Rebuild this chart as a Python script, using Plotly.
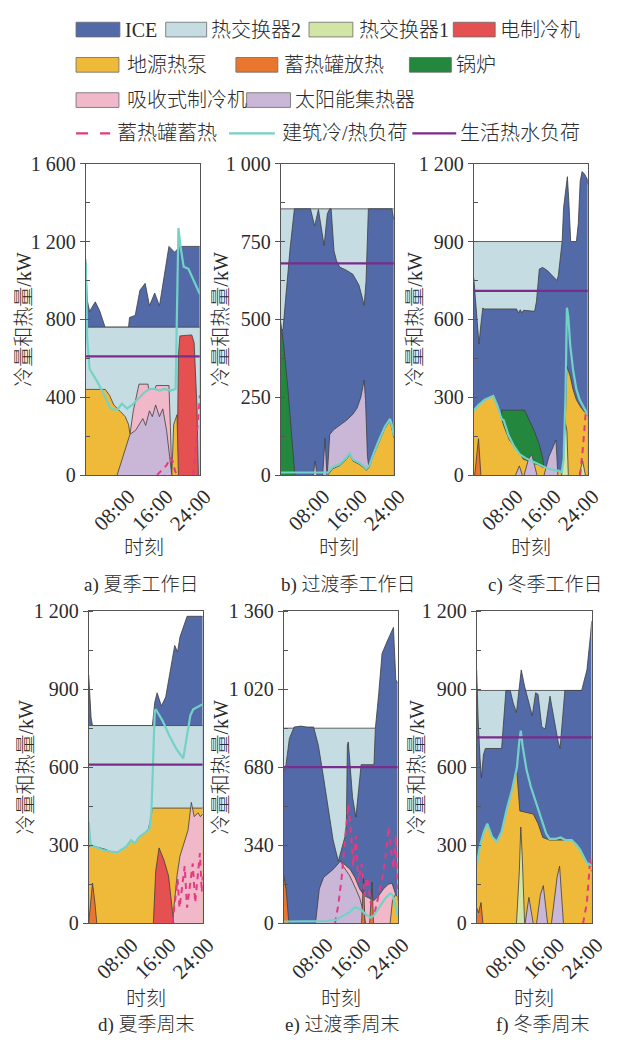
import plotly.graph_objects as go

W, H = 635, 1044
FONT = "Liberation Serif, Noto Sans CJK SC, serif"
TXT = "#2b2b2b"
EDGE = "#3d3d3d"
FRAME = "#555555"

COLOR = {
    "ICE": "#536aa9",
    "热交换器2": "#c5dde2",
    "热交换器1": "#d3e5a5",
    "电制冷机": "#e55050",
    "地源热泵": "#efba3a",
    "蓄热罐放热": "#e8762f",
    "锅炉": "#23883d",
    "吸收式制冷机": "#f1b8c9",
    "太阳能集热器": "#cab7d8",
    "蓄热罐蓄热": "#e33a80",
    "建筑冷/热负荷": "#73d2c7",
    "生活热水负荷": "#7b2b8b",
}

HOUR_TICKS = [8, 16, 24]
HOUR_LABELS = ["08:00", "16:00", "24:00"]

# ---- a) summer weekday: cumulative top of each layer, (hour, kW); None splits segments
A_ICE = [(0, 1110), (0.3, 900), (0.8, 840), (1.0, 850), (2.0, 890), (2.9, 845), (4.0, 765), (4.1, 760),
         (9.0, 760), (9.2, 810), (10.4, 820), (11.4, 950), (12.5, 985), (13.4, 870), (14.5, 935),
         (15.5, 870), (17.5, 1175), (18.7, 1145), (19.8, 1175), (24, 1175)]
A_HX2 = [(0, 760), (24, 760)]
A_CHILLER = [(19.2, 0), (19.5, 620), (19.8, 715), (22.3, 720), (22.8, 680), (23.4, 350), (23.7, 0)]
A_ABSORB = [(9.3, 209), (10.0, 330), (11.2, 467), (13.1, 467), (13.2, 445), (14.6, 445), (14.8, 460),
            (17.5, 460), (17.8, 250), (18.1, 0)]
A_GSHP = [(0, 440), (4.1, 440), (5.0, 410), (5.9, 360), (7.3, 326), (8.3, 300), (9.0, 260), (9.3, 209), None,
          (18.1, 0), (18.5, 260), (19.2, 310), (19.5, 0)]
A_SOLAR = [(6.6, 0), (9.3, 209), (10.5, 230), (12.0, 290), (12.6, 255), (13.4, 330), (14.0, 300), (14.7, 360),
           (15.5, 300), (16.2, 340), (17.0, 230), (17.6, 120), (18.1, 0)]
A_CHARGE = [(15.0, 0), (16.0, 25), (17.0, 50), (17.8, 90), (18.3, 70), (18.8, 20), (19.2, 0), None,
            (22.6, 0), (23.2, 150), (23.7, 300), (24, 410)]
A_LOAD = [(0, 1095), (0.3, 700), (0.8, 545), (1.3, 526), (2.5, 476), (3.9, 410), (5.2, 342), (6.6, 334),
          (7.6, 367), (8.7, 342), (9.7, 359), (11.0, 392), (12.4, 426), (13.4, 442), (14.5, 442), (15.5, 434),
          (16.5, 442), (17.9, 434), (18.9, 442), (19.3, 1000), (19.5, 1270), (19.9, 1180), (20.6, 1070),
          (21.6, 1060), (24, 930)]
A_DHW = 610

# ---- b) transition-season weekday
B_HX2 = [(0, 855), (24, 855)]
B_ICE = [(0, 460), (0.5, 470), (1.0, 560), (2.0, 730), (2.9, 855), (6.3, 855), (7.2, 800), (8.0, 853),
         (9.2, 737), (9.9, 840), (10.4, 855), (10.7, 855), (11.3, 720), (11.8, 690), (12.5, 668), (13.9, 658),
         (15.3, 645), (16.6, 610), (17.3, 570), (17.7, 545), (18.1, 620), (18.6, 855), (23.6, 855), (24, 820)]
B_BOILER = [(0, 490), (0.6, 420), (1.5, 280), (2.4, 100), (3.0, 0)]
B_SOLAR = [(6.9, 0), (7.3, 45), (7.7, 0), None, (8.9, 0), (9.4, 118), (9.8, 0), None,
           (9.9, 5), (10.4, 130), (11.2, 145), (12.5, 160), (13.9, 175), (15.3, 195), (16.2, 215),
           (17.0, 250), (17.7, 305), (18.0, 240), (18.4, 60), (18.7, 25)]
B_GSHP = [(10.0, 0), (11.0, 20), (12.5, 30), (13.9, 50), (14.6, 65), (15.3, 45), (16.6, 35), (17.5, 25),
          (18.1, 15), (18.8, 25), (19.6, 60), (20.8, 105), (22.1, 150), (23.2, 175), (23.6, 150), (24, 120)]
B_CHARGE = []
B_LOAD = [(0, 8), (10.0, 8), (11.0, 25), (12.5, 35), (13.9, 55), (14.6, 70), (15.3, 50), (16.6, 40),
          (17.5, 30), (18.1, 20), (18.8, 30), (19.6, 65), (20.8, 110), (22.1, 155), (23.2, 180), (23.6, 160),
          (24, 125)]
B_DHW = 680

# ---- c) winter weekday
C_HX2 = [(0, 900), (18.6, 900)]
C_ICE = [(0, 760), (0.5, 656), (1.1, 505), (1.5, 580), (1.9, 644), (2.2, 640), (9.0, 640), (9.4, 625),
         (9.8, 637), (10.1, 625), (10.5, 635), (12.8, 631), (13.2, 669), (13.8, 794), (14.5, 800), (15.5, 788),
         (17.5, 750), (17.8, 769), (18.6, 900), (18.9, 1030), (19.7, 1150), (20.0, 1058), (20.4, 900),
         (21.6, 900), (22.0, 970), (22.4, 1133), (22.8, 1170), (23.3, 1160), (23.9, 1140), (24, 1120)]
C_BOILER = [(5.8, 215), (5.9, 250), (10.7, 250), (11.8, 205), (12.8, 167), (13.8, 117), (14.5, 66), (15.0, 0)]
C_GSHP = [(0, 248), (0.9, 267), (2.3, 290), (4.1, 305), (4.9, 270), (5.9, 215), (6.5, 180), (7.5, 135),
          (8.5, 110), (9.5, 85), (10.5, 60), (11.5, 55), (12.5, 45), (13.5, 40), (14.5, 30), (15.5, 30),
          (16.5, 25), (17.5, 20), (18.3, 10), (18.6, 0), None,
          (18.8, 0), (19.2, 160), (19.6, 420), (20.3, 380), (20.9, 330), (21.6, 290), (22.5, 262),
          (23.3, 243), (24, 232)]
C_SOLAR = [(8.8, 0), (9.6, 35), (10.2, 0), None, (10.6, 0), (11.5, 60), (12.2, 80), (12.8, 40), (13.3, 0), None,
           (14.8, 0), (15.8, 70), (16.5, 100), (17.3, 135), (17.7, 0)]
C_HX1 = [(18.5, 0), (19.0, 120), (19.3, 200), (19.6, 170), (19.9, 0), None, (22.2, 0), (22.9, 55), (23.5, 0)]
C_DISCHARGE = [(0.2, 0), (1.0, 140), (1.5, 0)]
C_CHARGE = [(22.4, 0), (23.0, 110), (23.6, 250), (24, 230)]
C_LOAD = [(0, 248), (0.9, 268), (2.3, 290), (4.1, 305), (4.9, 270), (5.9, 215), (6.3, 211), (7.3, 154),
          (8.5, 110), (9.7, 79), (10.9, 65), (12.1, 54), (13.5, 42), (14.5, 33), (15.8, 23), (17.0, 20),
          (17.9, 16), (18.5, 10), (18.9, 60), (19.3, 300), (19.6, 645), (19.9, 610), (20.3, 500),
          (20.9, 405), (21.6, 330), (22.3, 290), (23.2, 258), (23.9, 235), (24, 236)]
C_DHW = 710

# ---- d) summer weekend
D_ICE = [(0, 955), (0.2, 900), (0.5, 790), (0.8, 760), (13.4, 760), (13.9, 850), (14.4, 886), (15.3, 835),
         (16.2, 870), (18.1, 1068), (18.7, 1043), (19.2, 1100), (20.7, 1180), (24, 1180)]
D_HX2 = [(0, 760), (24, 760)]
D_GSHP = [(0, 295), (0.5, 300), (2.0, 292), (3.4, 285), (4.6, 276), (6.0, 273), (7.9, 295), (8.9, 320),
          (9.7, 308), (10.7, 333), (12.1, 352), (12.6, 365), (13.1, 408), (13.4, 443), (24, 443)]
D_ABSORB = [(17.6, 0), (18.1, 100), (18.6, 185), (19.2, 258), (19.9, 300), (20.5, 340), (20.9, 358),
            (21.3, 420), (21.6, 465), (22.2, 410), (23.0, 425), (23.5, 410), (24, 420)]
D_CHILLER = [(13.6, 0), (14.1, 200), (14.8, 290), (15.8, 245), (16.8, 183), (17.5, 80), (17.9, 0)]
D_DISCHARGE = [(0, 0), (0.3, 60), (0.8, 155), (1.3, 80), (1.7, 0)]
D_CHARGE = [(17.6, 0), (18.2, 90), (18.7, 170), (19.1, 60), (19.6, 140), (20.2, 220), (20.7, 60), (21.3, 150),
            (21.9, 230), (22.4, 80), (22.9, 180), (23.4, 270), (23.8, 120), (24, 180)]
D_LOAD = [(0, 390), (0.4, 300), (1.2, 295), (3.0, 282), (4.6, 276), (6.0, 273), (7.9, 295), (8.9, 320),
          (9.7, 308), (10.7, 333), (12.1, 352), (12.8, 365), (13.2, 430), (13.6, 700), (13.9, 815),
          (14.1, 823), (15.5, 780), (17.0, 720), (18.5, 668), (19.9, 634), (20.5, 700), (20.9, 760),
          (21.4, 800), (22.0, 823), (24, 842)]
D_DHW = 610

# ---- e) transition-season weekend
E_HX2 = [(0, 850), (19.3, 850)]
E_ICE = [(0, 662), (0.5, 691), (1.2, 805), (2.2, 855), (3.6, 859), (4.9, 855), (6.3, 855), (7.3, 776),
         (8.4, 634), (9.4, 491), (10.4, 363), (11.5, 271), (12.2, 320), (12.9, 377), (13.2, 434), (13.4, 776),
         (13.6, 790), (14.0, 662), (14.5, 548), (15.2, 463), (15.8, 577), (16.3, 691), (19.0, 691),
         (19.3, 850), (20.0, 1000), (20.7, 1175), (21.7, 1225), (22.8, 1282), (23.1, 1289), (23.6, 1061),
         (24, 1047)]
E_ABSORB = [(12.0, 272), (13.0, 255), (14.0, 235), (15.0, 200), (16.0, 150), (17.0, 120), (18.0, 110),
            (19.0, 100), (20.0, 120), (21.0, 150), (22.0, 170), (22.8, 175), (23.5, 130), (24, 100)]
E_SOLAR = [(6.7, 0), (7.5, 150), (8.4, 200), (10.4, 235), (11.5, 260), (11.9, 272), (12.5, 250), (13.2, 230),
           (13.9, 207), (15.2, 150), (16.0, 110), (16.8, 50), (17.2, 0)]
E_GSHP = [(22.4, 0), (22.9, 100), (23.5, 125), (24, 115)]
E_DISCHARGE = [(0, 210), (0.5, 150), (1.1, 0), None, (16.4, 0), (16.8, 200), (17.1, 0), None,
               (18.1, 0), (18.6, 180), (18.9, 0)]
E_CHARGE = [(10.8, 0), (11.5, 80), (12.2, 200), (13.0, 380), (13.6, 520), (14.1, 420), (14.6, 250),
            (15.2, 380), (15.7, 180), (16.4, 260), (17.0, 120), (17.6, 200), (18.4, 80), (19.2, 50),
            (20.0, 120), (20.8, 200), (21.5, 300), (22.1, 420), (22.6, 320), (23.1, 240), (23.6, 380), (24, 150)]
E_LOAD = [(0, 8), (7.0, 8), (9.0, 10), (11.0, 15), (12.5, 35), (13.9, 50), (15.0, 70), (16.3, 60), (17.2, 40),
          (18.3, 25), (19.0, 35), (20.2, 70), (21.4, 110), (22.4, 130), (22.9, 125), (23.5, 80), (24, 30)]
E_DHW = 680

# ---- f) winter weekend
F_HX2 = [(0, 895), (22.0, 895)]
F_ICE = [(0, 974), (0.3, 785), (0.7, 634), (1.0, 559), (1.4, 647), (1.8, 672), (5.2, 672), (5.6, 760),
         (6.1, 895), (7.0, 895), (7.6, 848), (8.3, 810), (8.8, 900), (9.3, 974), (10.0, 911), (10.6, 870),
         (11.6, 798), (12.3, 886), (12.8, 880), (13.6, 754), (14.3, 747), (15.3, 873), (16.0, 800),
         (17.0, 697), (17.4, 672), (17.9, 780), (18.4, 895), (21.9, 895), (23.0, 974), (23.7, 1099), (24, 1162)]
F_GSHP = [(0, 220), (0.7, 300), (1.5, 352), (2.2, 383), (3.2, 333), (4.2, 314), (5.2, 352), (6.3, 440),
          (7.4, 515), (8.0, 572), (8.4, 578), (8.8, 480), (9.0, 432), (11.8, 420), (12.8, 384), (13.8, 330),
          (15.2, 320), (19.8, 320), (21.6, 283), (23.0, 232), (24, 220)]
F_SOLAR = [(10.1, 0), (10.9, 100), (11.8, 0), None, (12.5, 0), (13.3, 110), (13.9, 145), (14.8, 0), None,
           (15.6, 0), (16.8, 180), (17.3, 220), (18.1, 0)]
F_HX1 = [(8.3, 0), (8.9, 200), (9.2, 370), (9.5, 260), (10.0, 0)]
F_DISCHARGE = [(0, 60), (0.4, 40), (0.9, 80), (1.3, 0)]
F_CHARGE = [(22.2, 0), (23.0, 80), (23.7, 250), (24, 200)]
F_LOAD = [(0, 220), (0.7, 300), (1.5, 352), (2.2, 383), (3.2, 333), (4.2, 314), (5.2, 352), (6.3, 440),
          (7.4, 515), (8.0, 572), (8.4, 600), (8.9, 700), (9.2, 741), (9.6, 680), (10.4, 590), (11.3, 525),
          (12.3, 470), (13.3, 410), (14.5, 345), (15.2, 325), (16.5, 325), (17.5, 330), (18.5, 320),
          (19.8, 320), (20.9, 300), (21.6, 283), (23.0, 232), (24, 222)]
F_DHW = 715

# Panels: layers listed from the top of the stack downwards (painted in this order)
PANELS = [
    dict(caption="a) 夏季工作日", ymax=1600, dtick=400,
         layers=[("ICE", A_ICE), ("热交换器2", A_HX2), ("电制冷机", A_CHILLER), ("吸收式制冷机", A_ABSORB),
                 ("地源热泵", A_GSHP), ("太阳能集热器", A_SOLAR)],
         charge=A_CHARGE, load=A_LOAD, dhw=A_DHW),
    dict(caption="b) 过渡季工作日", ymax=1000, dtick=250,
         layers=[("热交换器2", B_HX2), ("ICE", B_ICE), ("锅炉", B_BOILER), ("太阳能集热器", B_SOLAR),
                 ("地源热泵", B_GSHP)],
         charge=B_CHARGE, load=B_LOAD, dhw=B_DHW),
    dict(caption="c) 冬季工作日", ymax=1200, dtick=300,
         layers=[("热交换器2", C_HX2), ("ICE", C_ICE), ("锅炉", C_BOILER), ("地源热泵", C_GSHP),
                 ("太阳能集热器", C_SOLAR), ("热交换器1", C_HX1), ("蓄热罐放热", C_DISCHARGE)],
         charge=C_CHARGE, load=C_LOAD, dhw=C_DHW),
    dict(caption="d) 夏季周末", ymax=1200, dtick=300,
         layers=[("ICE", D_ICE), ("热交换器2", D_HX2), ("地源热泵", D_GSHP), ("吸收式制冷机", D_ABSORB),
                 ("电制冷机", D_CHILLER), ("蓄热罐放热", D_DISCHARGE)],
         charge=D_CHARGE, load=D_LOAD, dhw=D_DHW),
    dict(caption="e) 过渡季周末", ymax=1360, dtick=340,
         layers=[("热交换器2", E_HX2), ("ICE", E_ICE), ("吸收式制冷机", E_ABSORB), ("太阳能集热器", E_SOLAR),
                 ("地源热泵", E_GSHP), ("蓄热罐放热", E_DISCHARGE)],
         charge=E_CHARGE, load=E_LOAD, dhw=E_DHW),
    dict(caption="f) 冬季周末", ymax=1200, dtick=300,
         layers=[("热交换器2", F_HX2), ("ICE", F_ICE), ("地源热泵", F_GSHP), ("太阳能集热器", F_SOLAR),
                 ("热交换器1", F_HX1), ("蓄热罐放热", F_DISCHARGE)],
         charge=F_CHARGE, load=F_LOAD, dhw=F_DHW),
]

# Plot-area boxes in pixels: (left, right, top, bottom)
BOXES = [(88, 205, 156, 474), (288, 404, 156, 474), (486, 603, 156, 474),
         (91, 208, 613, 932), (291, 408, 613, 932), (489, 607, 613, 932)]
YTITLE_X = [25, 227, 426, 27, 227, 428]
XTITLE_POS = [(148, 549), (348, 549), (545, 549), (150, 1009), (350, 1009), (548, 1009)]
CAPTION_POS = [(145, 586), (357, 586), (560, 586), (150, 1036), (351, 1036), (557, 1036)]


def px(x):
    return x / W


def py(y):
    return 1 - y / H


def segments(points):
    seg = []
    for p in points:
        if p is None:
            if seg:
                yield seg
            seg = []
        else:
            seg.append(p)
    if seg:
        yield seg


def text_font(size):
    return dict(family=FONT, size=size, color=TXT, weight=300)


fig = go.Figure()
layout_axes = {}
annotations = []

for i, (panel, box) in enumerate(zip(PANELS, BOXES)):
    n = i + 1
    xa, ya = ("x", "y") if n == 1 else (f"x{n}", f"y{n}")
    for name, pts in panel["layers"]:
        for seg in segments(pts):
            fig.add_trace(go.Scatter(
                x=[p[0] for p in seg], y=[p[1] for p in seg], mode="lines",
                fill="tozeroy", fillcolor=COLOR[name],
                line=dict(color=EDGE, width=0.8), name=name,
                xaxis=xa, yaxis=ya, showlegend=False))
    for seg in segments(panel["charge"]):
        fig.add_trace(go.Scatter(
            x=[p[0] for p in seg], y=[p[1] for p in seg], mode="lines",
            line=dict(color=COLOR["蓄热罐蓄热"], width=2, dash="6px,5px"),
            name="蓄热罐蓄热", xaxis=xa, yaxis=ya, showlegend=False))
    fig.add_trace(go.Scatter(
        x=[p[0] for p in panel["load"]], y=[p[1] for p in panel["load"]], mode="lines",
        line=dict(color=COLOR["建筑冷/热负荷"], width=2.2),
        name="建筑冷/热负荷", xaxis=xa, yaxis=ya, showlegend=False))
    fig.add_trace(go.Scatter(
        x=[0, 24], y=[panel["dhw"], panel["dhw"]], mode="lines",
        line=dict(color=COLOR["生活热水负荷"], width=2.2),
        name="生活热水负荷", xaxis=xa, yaxis=ya, showlegend=False))

    left, right, top, bottom = box
    kx = "xaxis" if n == 1 else f"xaxis{n}"
    ky = "yaxis" if n == 1 else f"yaxis{n}"
    layout_axes[kx] = dict(
        domain=[px(left), px(right)], range=[0, 24], anchor=ya,
        tickmode="array", tickvals=HOUR_TICKS, ticktext=HOUR_LABELS, tickangle=-45,
        ticklabelshift=5,
        ticks="", showline=True, mirror=True, linecolor=FRAME, linewidth=1,
        showgrid=False, zeroline=False,
        tickfont=dict(family=FONT, size=21, color=TXT))
    layout_axes[ky] = dict(
        domain=[py(bottom), py(top)], range=[0, panel["ymax"]], anchor=xa,
        tick0=0, dtick=panel["dtick"], tickformat=",",
        ticks="outside", ticklen=5, tickcolor=FRAME,
        minor=dict(dtick=panel["dtick"] / 2, ticks="inside", ticklen=4, tickcolor=FRAME),
        showline=True, mirror=True, linecolor=FRAME, linewidth=1,
        showgrid=False, zeroline=False,
        tickfont=dict(family=FONT, size=20, color=TXT))

    annotations.append(dict(
        text="冷量和热量/kW", textangle=-90, x=px(YTITLE_X[i]), y=py((top + bottom) / 2),
        xref="paper", yref="paper", xanchor="center", yanchor="middle", showarrow=False,
        font=text_font(20)))
    annotations.append(dict(
        text="时刻", x=px(XTITLE_POS[i][0]), y=py(XTITLE_POS[i][1]),
        xref="paper", yref="paper", xanchor="center", yanchor="middle", showarrow=False,
        font=text_font(20)))
    annotations.append(dict(
        text=panel["caption"], x=px(CAPTION_POS[i][0]), y=py(CAPTION_POS[i][1]),
        xref="paper", yref="paper", xanchor="center", yanchor="middle", showarrow=False,
        font=text_font(19)))

# Legend drawn as boxes / line swatches with labels
LEGEND_BOXES = [
    ("ICE", 78, 123, 126, 19), ("热交换器2", 170, 212, 214, 19), ("热交换器1", 317, 362, 366, 19),
    ("电制冷机", 465, 508, 511, 19),
    ("地源热泵", 78, 122, 128, 55), ("蓄热罐放热", 242, 285, 289, 55), ("锅炉", 420, 463, 466, 55),
    ("吸收式制冷机", 78, 122, 128, 91), ("太阳能集热器", 253, 298, 301, 91),
]
LEGEND_LINES = [
    ("蓄热罐蓄热", 78, 113, 118, 125, "12px,12px"),
    ("建筑冷/热负荷", 235, 282, 287, 125, "solid"),
    ("生活热水负荷", 423, 468, 470, 125, "solid"),
]

shapes = []
for name, x0, x1, tx, yc in LEGEND_BOXES:
    shapes.append(dict(type="rect", xref="paper", yref="paper",
                       x0=px(x0), x1=px(x1), y0=py(yc + 7.5), y1=py(yc - 7.5),
                       fillcolor=COLOR[name], line=dict(color="#6a6a6a", width=0.8)))
    annotations.append(dict(text=name, x=px(tx), y=py(yc), xref="paper", yref="paper",
                            xanchor="left", yanchor="middle", showarrow=False,
                            font=text_font(20)))
for name, x0, x1, tx, yc, dash in LEGEND_LINES:
    shapes.append(dict(type="line", xref="paper", yref="paper",
                       x0=px(x0), x1=px(x1), y0=py(yc), y1=py(yc),
                       line=dict(color=COLOR[name], width=2.2, dash=dash)))
    annotations.append(dict(text=name, x=px(tx), y=py(yc), xref="paper", yref="paper",
                            xanchor="left", yanchor="middle", showarrow=False,
                            font=text_font(20)))

fig.update_layout(
    width=W, height=H, margin=dict(l=0, r=0, t=0, b=0),
    paper_bgcolor="white", plot_bgcolor="white",
    separators=". ", showlegend=False,
    font=dict(family=FONT, color=TXT),
    annotations=annotations, shapes=shapes,
    **layout_axes)

fig.write_html("out.html")
